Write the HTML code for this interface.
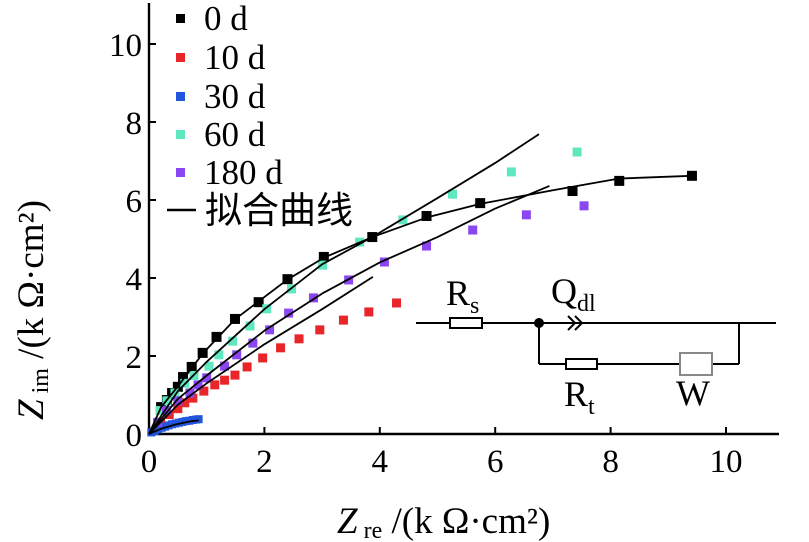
<!DOCTYPE html>
<html><head><meta charset="utf-8"><style>
html,body{margin:0;padding:0;background:#fff;}
svg{display:block;font-family:"Liberation Serif","Noto Serif CJK SC",serif;}
</style></head><body>
<svg id="chart" width="809" height="542" viewBox="0 0 809 542"></svg>
<script>
const xTicks=[0,2,4,6,8,10];
const yTicks=[0,2,4,6,8,10];
const seriesNames=["0 d","10 d","30 d","60 d","180 d"];
const seriesColors=["#000000","#e8262a","#2255dd","#5fe8c0","#8a46f0"];
const d0=[[0.21,0.69],[0.31,0.87],[0.40,1.05],[0.50,1.21],[0.59,1.46],[0.74,1.72],[0.93,2.08],[1.17,2.49],[1.49,2.95],[1.90,3.38],[2.40,3.97],[3.03,4.54],[3.87,5.05],[4.81,5.59],[5.74,5.92],[7.34,6.23],[8.15,6.49],[9.41,6.62]];
const d10=[[0.2,0.3],[0.35,0.5],[0.5,0.65],[0.62,0.8],[0.76,0.92],[0.95,1.1],[1.14,1.26],[1.31,1.38],[1.49,1.51],[1.70,1.72],[1.97,1.95],[2.28,2.21],[2.60,2.44],[2.96,2.67],[3.37,2.92],[3.81,3.13],[4.29,3.36]];
const d30=[[0.04,0.04],[0.1,0.08],[0.16,0.12],[0.22,0.16],[0.28,0.19],[0.34,0.22],[0.4,0.25],[0.46,0.27],[0.52,0.29],[0.58,0.31],[0.64,0.33],[0.7,0.34],[0.76,0.36],[0.82,0.37],[0.86,0.38]];
const d60=[[0.19,0.6],[0.31,0.85],[0.45,1.05],[0.62,1.3],[0.78,1.5],[1.04,1.74],[1.21,2.03],[1.45,2.38],[1.75,2.77],[2.04,3.21],[2.47,3.72],[3.01,4.33],[3.65,4.92],[4.40,5.49],[5.26,6.15],[6.28,6.72],[7.42,7.23]];
const d180=[[0.15,0.3],[0.3,0.6],[0.5,0.85],[0.71,1.05],[0.85,1.26],[1.0,1.44],[1.31,1.74],[1.52,2.03],[1.80,2.33],[2.09,2.67],[2.42,3.10],[2.85,3.49],[3.46,3.95],[4.08,4.41],[4.81,4.82],[5.61,5.23],[6.54,5.62],[7.54,5.85]];
const fit0=[[0,0],[0.21,0.69],[0.5,1.22],[0.93,2.06],[1.49,2.94],[2.40,3.96],[3.03,4.52],[3.87,5.05],[4.81,5.55],[5.74,5.9],[7.0,6.25],[8.15,6.55],[9.41,6.62]];
const fit10=[[0,0],[0.5,0.75],[1,1.3],[2,2.3],[3,3.2],[3.88,4.03]];
const fit30=[[0,0],[0.2,0.13],[0.45,0.24],[0.7,0.32],[0.86,0.35]];
const fit60=[[0,0],[0.5,1.1],[1,1.85],[2,3.2],[3,4.35],[3.87,5.05],[5,6.05],[6,6.95],[6.76,7.69]];
const fit180=[[0,0],[0.5,0.9],[1,1.5],[2,2.65],[3,3.6],[4,4.4],[5,5.05],[6,5.78],[6.94,6.36]];
const series=[d0,d10,d30,d60,d180];
const fits=[fit0,fit10,fit30,fit60,fit180];

const NS="http://www.w3.org/2000/svg";
const svg=document.getElementById('chart');
const X0=149,XS=57.7,Y0=434,YS=39;
function sx(v){return X0+v*XS;}
function sy(v){return Y0-v*YS;}
function mk(tag,attrs,parent){const e=document.createElementNS(NS,tag);for(const k in attrs)e.setAttribute(k,attrs[k]);(parent||svg).appendChild(e);return e;}

let ax=mk('line',{x1:X0,y1:434,x2:779,y2:434,stroke:'#000','stroke-width':2.4});


let ay=mk('line',{x1:X0,y1:434,x2:X0,y2:3,stroke:'#000','stroke-width':2.4});


xTicks.forEach(t=>{
  let l=mk('line',{x1:sx(t),y1:434,x2:sx(t),y2:427,stroke:'#000','stroke-width':2});
  
  
  let tx=mk('text',{x:sx(t),y:472,'font-size':33,'text-anchor':'middle'});
  tx.textContent=t;
  
  
});
yTicks.forEach(t=>{
  let l=mk('line',{x1:X0,y1:sy(t),x2:X0+7,y2:sy(t),stroke:'#000','stroke-width':2});
  
  
  let tx=mk('text',{x:142,y:sy(t)+12,'font-size':33,'text-anchor':'end'});
  tx.textContent=t;
  
  
});

series.forEach((s,i)=>{
  const g=mk('g',{});
  
  
  const sz=i===0?10:(i===2?8:9);
  s.forEach(p=>{
    let r=mk('rect',{x:sx(p[0])-sz/2,y:sy(p[1])-sz/2,width:sz,height:sz,fill:seriesColors[i]},g);
    
    
  });
});
fits.forEach((f,i)=>{
  let pl=mk('polyline',{points:f.map(p=>sx(p[0])+','+sy(p[1])).join(' '),fill:'none',stroke:'#000','stroke-width':1.8,'stroke-linejoin':'round'});
  
  
});

const lg=mk('g',{});


const ly=[18,57,96,134,172];
seriesNames.forEach((n,i)=>{
  let r=mk('rect',{x:176,y:ly[i]-4,width:9,height:9,fill:seriesColors[i]},lg);
  
  
  let t=mk('text',{x:204,y:ly[i]+12,'font-size':35},lg);
  t.textContent=n;
  
  
});
let ll=mk('line',{x1:167,y1:210,x2:196,y2:210,stroke:'#000','stroke-width':2.4},lg);


let lt=mk('text',{x:205,y:223,'font-size':37,'font-family':'"Noto Sans CJK SC",sans-serif'},lg);
lt.textContent='拟合曲线';



let xt=mk('text',{x:337,y:533,'font-size':37});
xt.innerHTML='<tspan font-style="italic">Z</tspan><tspan font-size="24" dy="5"> re</tspan><tspan dy="-5"> /(k Ω·cm²)</tspan>';


let yt=mk('text',{x:0,y:0,'font-size':37,transform:'translate(43,420) rotate(-90)'});
yt.innerHTML='<tspan font-style="italic">Z</tspan><tspan font-size="24" dy="5"> im</tspan><tspan dy="-5"> /(k Ω·cm²)</tspan>';



const cg=mk('g',{stroke:'#000','stroke-width':2,fill:'none'});


mk('line',{x1:416,y1:323,x2:776,y2:323},cg);
mk('rect',{x:450,y:318,width:32,height:10,fill:'#fff'},cg);
mk('circle',{cx:539,cy:323,r:4,fill:'#000'},cg);
mk('path',{d:'M568 316 L575 323 L568 330 M575 316 L582 323 L575 330',fill:'none'},cg);
mk('line',{x1:539,y1:323,x2:539,y2:364},cg);
mk('line',{x1:539,y1:364,x2:739,y2:364},cg);
mk('line',{x1:739,y1:323,x2:739,y2:364},cg);
mk('rect',{x:566,y:359,width:31,height:10,fill:'#fff'},cg);
mk('rect',{x:680,y:353,width:32,height:22,fill:'#fff',stroke:'#888'},cg);
function lab(x,y,main,sub,name){let t=mk('text',{x:x,y:y,'font-size':36});t.innerHTML=main+(sub?'<tspan font-size="24" dy="8">'+sub+'</tspan>':'');}
lab(446,305,'R','s','label-rs');
lab(551,303,'Q','dl','label-qdl');
lab(564,406,'R','t','label-rt');
lab(676,405,'W','','label-w');
</script>
</body></html>
